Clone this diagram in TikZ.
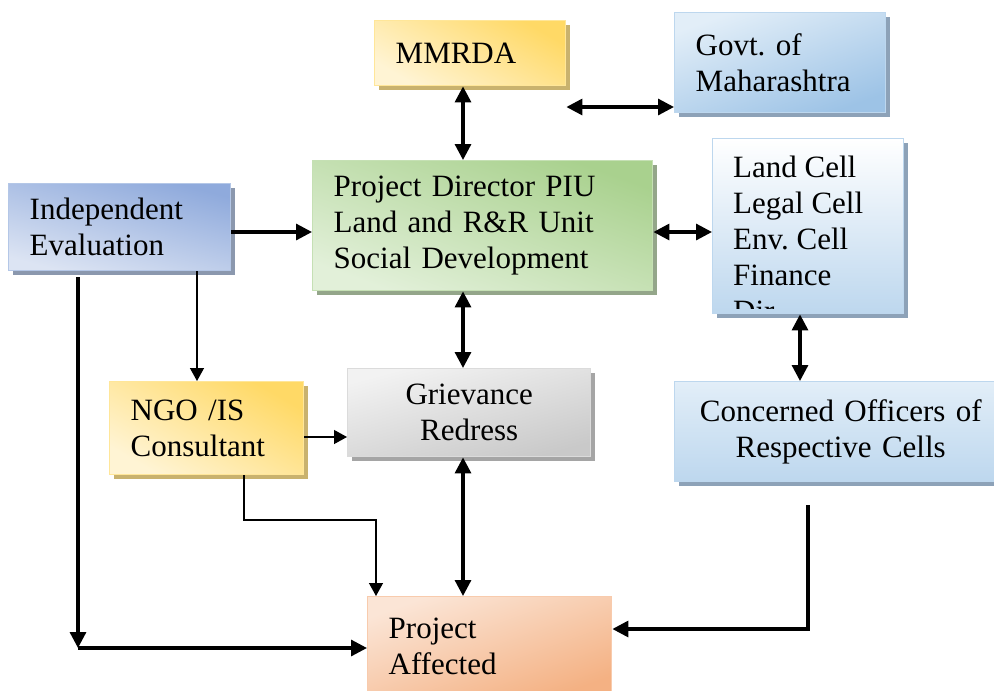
\documentclass[tikz,border=0pt]{standalone}
\usepackage{fontspec}
\setmainfont{Liberation Serif}
\usetikzlibrary{arrows.meta,shadows}
\definecolor{goldA}{HTML}{FFD966}
\definecolor{goldB}{HTML}{FFF4D4}
\definecolor{goldline}{HTML}{FFE699}
\definecolor{goldshade}{HTML}{C9B26E}
\definecolor{skyA}{HTML}{9DC3E6}
\definecolor{skyB}{HTML}{E2EEF8}
\definecolor{skyline}{HTML}{BDD7EE}
\definecolor{skyshade}{HTML}{8DA2B8}
\definecolor{leafA}{HTML}{A9D18E}
\definecolor{leafB}{HTML}{E2F0D9}
\definecolor{leafline}{HTML}{C5E0B4}
\definecolor{leafshade}{HTML}{94A68A}
\definecolor{indA}{HTML}{8FAADC}
\definecolor{indB}{HTML}{DCE4F3}
\definecolor{indline}{HTML}{B4C7E7}
\definecolor{indshade}{HTML}{8B98AE}
\definecolor{greyA}{HTML}{C9C9C9}
\definecolor{greyB}{HTML}{F2F2F2}
\definecolor{greyline}{HTML}{DBDBDB}
\definecolor{greyshade}{HTML}{A5A5A5}
\definecolor{peachA}{HTML}{F4B183}
\definecolor{peachB}{HTML}{FBE5D6}
\definecolor{peachline}{HTML}{F8CBAD}
\definecolor{cellB}{HTML}{BDD7EE}
\frenchspacing
\tikzset{
    unit/.style = {anchor=north west, inner xsep=21pt, inner ysep=0pt, line width=1.4pt,
                 font=\fontsize{31}{36}\selectfont, align=left},
    goldbox/.style = {unit, draw=goldline, top color=goldA, bottom color=goldB, shading angle=-30,
                 drop shadow={shadow xshift=4pt, shadow yshift=-4pt, fill=goldshade, opacity=1}},
    skybox/.style = {unit, draw=skyline, left color=skyB, right color=skyA, shading angle=20,
                 drop shadow={shadow xshift=4pt, shadow yshift=-4pt, fill=skyshade, opacity=1}},
    leafbox/.style = {unit, draw=leafline, left color=leafA, right color=leafB, shading angle=-20,
                 drop shadow={shadow xshift=4pt, shadow yshift=-4pt, fill=leafshade, opacity=1}},
    indbox/.style = {unit, draw=indline, left color=indA, right color=indB, shading angle=-15,
                 drop shadow={shadow xshift=4pt, shadow yshift=-4pt, fill=indshade, opacity=1}},
    greybox/.style = {unit, align=center, draw=greyline, left color=greyB, right color=greyA, shading angle=15,
                 drop shadow={shadow xshift=4pt, shadow yshift=-4pt, fill=greyshade, opacity=1}},
    cellbox/.style = {unit, draw=skyline, top color=white, bottom color=cellB,
                 drop shadow={shadow xshift=4pt, shadow yshift=-4pt, fill=skyshade, opacity=1}},
    officebox/.style = {unit, align=center, draw=skyline, top color=skyB, bottom color=cellB,
                 drop shadow={shadow xshift=4pt, shadow yshift=-4pt, fill=skyshade, opacity=1}},
    peachbox/.style = {unit, draw=peachline, left color=peachB, right color=peachA, shading angle=20},
    feed/.style = {line width=1.3pt, -{Triangle[length=13pt,width=14pt]}},
    link/.style = {line width=3.2pt},
}

\begin{document}
\begin{tikzpicture}[x=1pt,y=-1pt,>={Triangle[length=16pt,width=16pt]}]
\fill[white] (0,0) rectangle (994,691);
\useasboundingbox (0,0) rectangle (994,691);
\node (mmrda) [goldbox,text width=149pt,minimum height=65pt] at (374,20) {MMRDA};
\node (govt) [skybox,text width=169pt,minimum height=100pt] at (674,12) {Govt. of\\Maharashtra};
\node (pd) [leafbox,text width=298pt,minimum height=130pt] at (312,160) {Project Director PIU\\Land and R\&R Unit\\Social Development};
\node (cells) [cellbox,text width=149pt,minimum height=175pt] at (712,138) {};
\begin{scope}
\clip (cells.north west) rectangle ([yshift=6pt]cells.south east);
\node (celltext) [anchor=north west,inner sep=0pt,align=left,font=\fontsize{31}{36}\selectfont] at (733,156) {Land Cell\\Legal Cell\\Env. Cell\\Finance\\Dir};
\end{scope}
\node (ie) [indbox,text width=180pt,minimum height=87pt] at (8,183) {Independent\\Evaluation};
\node (ngo) [goldbox,text width=152pt,minimum height=93pt] at (109,381) {NGO /IS\\Consultant};
\node (gr) [greybox,text width=201pt,minimum height=88pt] at (347,368) {Grievance\\Redress};
\node (conc) [officebox,text width=290pt,minimum height=100pt] at (674,381) {Concerned Officers of\\Respective Cells};
\node (pa) [peachbox,text width=202pt,minimum height=100pt] at (367,596) {Project\\Affected};
% helper points for the connectors
\coordinate (col) at (463,0);
\coordinate (row) at (0,232);
\coordinate (gy) at (0,107);
\coordinate (cx) at (800,0);
\coordinate (ngx) at (197,0);
\coordinate (ny) at (0,437);
\coordinate (nx) at (244,0);
\coordinate (nbend) at (376,520);
\coordinate (ltop) at (78,277);
\coordinate (lbot) at (78,648);
\coordinate (ctop) at (808,505);
\coordinate (cbend) at (808,629);
\draw[link,<->] (mmrda.south -| col) -- (pd.north -| col);
\draw[link,<->] (mmrda.east |- gy) -- (govt.west |- gy);
\draw[link,<->] (pd.east |- row) -- (cells.west |- row);
\draw[link,->] (ie.east |- row) -- (pd.west |- row);
\draw[link,<->] (pd.south -| col) -- (gr.north -| col);
\draw[link,<->] (cells.south -| cx) -- (conc.north -| cx);
\draw[link,<->] (gr.south -| col) -- (pa.north -| col);
\draw[feed] (ie.south -| ngx) -- (ngo.north -| ngx);
\draw[feed] (ngo.east |- ny) -- (gr.west |- ny);
\draw[feed] (ngo.south -| nx) |- (nbend) -- (pa.north -| nbend);
\draw[link,->] (ltop) -- (lbot);
\draw[link,->] (lbot) -- (pa.west |- lbot);
\draw[link,->] (ctop) |- (pa.east |- cbend);
\end{tikzpicture}
\end{document}
